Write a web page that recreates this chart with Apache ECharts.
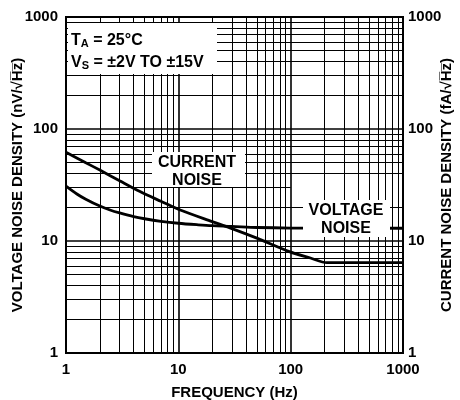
<!DOCTYPE html>
<html><head><meta charset="utf-8">
<script src="https://cdn.jsdelivr.net/npm/echarts@6/dist/echarts.min.js"></script>
<style>html,body{margin:0;padding:0;background:#fff}#c{width:460px;height:400px}</style>
</head><body><div id="c"></div>
<script>
// ---- data ----
const freqTickLabels = ['1', '10', '100', '1000'];
const noiseTickLabels = ['1', '10', '100', '1000'];
const decades = [1, 10, 100];
const minorMultipliers = [2, 3, 4, 5, 6, 7, 8, 9];

const currentFreq  = [1, 1.5, 2, 3, 4.56, 7, 10.4, 20, 28.8, 50, 98.6, 150, 210, 500, 1000];
const currentNoise = [62, 50, 43, 34.5, 27.6, 22.6, 18.9, 14.9, 13.1, 10.6, 8.0, 7.05, 6.4, 6.4, 6.4];

const voltageFreq  = [1, 1.25, 1.5, 2, 2.5, 3, 4, 5, 7, 10, 15, 20, 30, 50, 100, 1000];
const voltageNoise = [30.9, 26.3, 23.6, 20.5, 18.8, 17.8, 16.5, 15.8, 15.0, 14.4, 13.95, 13.7, 13.5, 13.2, 13.05, 13.0];

const FONT = '"Liberation Sans", Arial, Helvetica, sans-serif';

// grid lines (minor) built from the decades
const gridLines = [];
decades.forEach(d => minorMultipliers.forEach(m => {
  gridLines.push({ xAxis: d * m });
  if (d * m === 30) {
    gridLines.push([{ coord: [1, 30] }, { coord: [100, 30] }]);
  } else {
    gridLines.push({ yAxis: d * m });
  }
}));

const chart = echarts.init(document.getElementById('c'), null, { renderer: 'canvas' });

const labelStyle = { color: '#000', fontFamily: FONT, fontWeight: 'bold', fontSize: 15 };

chart.setOption({
  animation: false,
  backgroundColor: '#fff',
  grid: { left: 66, top: 17, right: 57, bottom: 47, containLabel: false, outerBoundsMode: 'none',
          show: true, borderColor: '#000', borderWidth: 2, backgroundColor: 'transparent' },
  xAxis: {
    type: 'log', logBase: 10, min: 1, max: 1000,
    name: 'FREQUENCY (Hz)', nameLocation: 'middle', nameGap: 32, nameMoveOverlap: false,
    nameTextStyle: { ...labelStyle, fontSize: 15 },
    axisLine: { show: true, lineStyle: { color: '#000', width: 2 } },
    axisTick: { show: false },
    axisLabel: { ...labelStyle, margin: 9, formatter: v => freqTickLabels[Math.round(Math.log10(v))] },
    splitLine: { show: true, lineStyle: { color: '#000', width: 1.6 } },
    minorTick: { show: false }, minorSplitLine: { show: false }
  },
  yAxis: [{
    type: 'log', logBase: 10, min: 1, max: 1000, position: 'left',
    name: 'VOLTAGE NOISE DENSITY (nV/√H\u0305z\u0305)', nameLocation: 'middle', nameGap: 41, nameRotate: 90, nameMoveOverlap: false,
    nameTextStyle: { ...labelStyle, fontSize: 15 },
    axisLine: { show: true, lineStyle: { color: '#000', width: 2 } },
    axisTick: { show: false },
    axisLabel: { ...labelStyle, margin: 8, formatter: v => noiseTickLabels[Math.round(Math.log10(v))] },
    splitLine: { show: true, lineStyle: { color: '#000', width: 1.6 } }
  }, {
    type: 'log', logBase: 10, min: 1, max: 1000, position: 'right',
    name: 'CURRENT NOISE DENSITY (fA/√H\u0305z\u0305)', nameLocation: 'middle', nameGap: 36, nameRotate: 90, nameMoveOverlap: false,
    nameTextStyle: { ...labelStyle, fontSize: 15 },
    axisLine: { show: true, lineStyle: { color: '#000', width: 2 } },
    axisTick: { show: false },
    axisLabel: { ...labelStyle, margin: 5, formatter: v => noiseTickLabels[Math.round(Math.log10(v))] },
    splitLine: { show: false }
  }],
  series: [{
    type: 'line', z: 1, silent: true, data: [[1, 1]], symbol: 'none', lineStyle: { opacity: 0 },
    markLine: {
      silent: true, animation: false, symbol: ['none', 'none'], label: { show: false },
      lineStyle: { color: '#000', width: 1, type: 'solid' },
      emphasis: { disabled: true },
      data: gridLines
    }
  }, {
    name: 'CURRENT NOISE', type: 'line', z: 5, yAxisIndex: 1, symbol: 'none', smooth: 0.3,
    lineStyle: { color: '#000', width: 2.8 },
    data: currentFreq.map((f, i) => [f, currentNoise[i]])
  }, {
    name: 'VOLTAGE NOISE', type: 'line', z: 5, yAxisIndex: 0, symbol: 'none', smooth: 0.3,
    lineStyle: { color: '#000', width: 2.8 },
    data: voltageFreq.map((f, i) => [f, voltageNoise[i]])
  }],
  graphic: [
    { type: 'rect', z: 100, shape: { x: 68, y: 23, width: 149, height: 51 }, style: { fill: '#fff' } },
    { type: 'text', z: 101, x: 71, y: 39, style: {
      text: '{a|T}{s|A}{a| = 25°C}', verticalAlign: 'middle', align: 'left',
      rich: { a: { fontFamily: FONT, fontWeight: 'bold', fontSize: 16, fill: '#000', verticalAlign: 'bottom', lineHeight: 20 },
              s: { fontFamily: FONT, fontWeight: 'bold', fontSize: 11, fill: '#000', verticalAlign: 'bottom', lineHeight: 14 } } } },
    { type: 'text', z: 101, x: 71, y: 61, style: {
      text: '{a|V}{s|S}{a| = ±2V TO ±15V}', verticalAlign: 'middle', align: 'left',
      rich: { a: { fontFamily: FONT, fontWeight: 'bold', fontSize: 16, fill: '#000', verticalAlign: 'bottom', lineHeight: 20 },
              s: { fontFamily: FONT, fontWeight: 'bold', fontSize: 11, fill: '#000', verticalAlign: 'bottom', lineHeight: 14 } } } },
    { type: 'rect', z: 100, shape: { x: 152, y: 152, width: 93, height: 35 }, style: { fill: '#fff' } },
    { type: 'text', z: 101, x: 197, y: 163, style: { text: 'CURRENT', align: 'center', verticalAlign: 'middle', fontFamily: FONT, fontWeight: 'bold', fontSize: 16, fill: '#000' } },
    { type: 'text', z: 101, x: 197, y: 181, style: { text: 'NOISE', align: 'center', verticalAlign: 'middle', fontFamily: FONT, fontWeight: 'bold', fontSize: 16, fill: '#000' } },
    { type: 'rect', z: 100, shape: { x: 303, y: 200, width: 87, height: 37 }, style: { fill: '#fff' } },
    { type: 'text', z: 101, x: 346, y: 211, style: { text: 'VOLTAGE', align: 'center', verticalAlign: 'middle', fontFamily: FONT, fontWeight: 'bold', fontSize: 16, fill: '#000' } },
    { type: 'text', z: 101, x: 346, y: 229, style: { text: 'NOISE', align: 'center', verticalAlign: 'middle', fontFamily: FONT, fontWeight: 'bold', fontSize: 16, fill: '#000' } }
  ]
});
</script>
</body></html>
